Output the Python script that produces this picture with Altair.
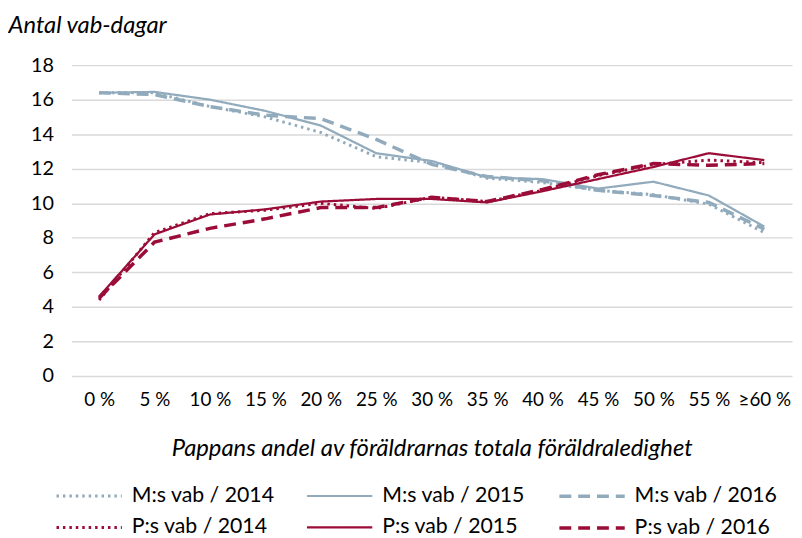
import altair as alt
import pandas as pd

categories = ["0 %", "5 %", "10 %", "15 %", "20 %", "25 %", "30 %", "35 %", "40 %", "45 %", "50 %", "55 %", "≥60 %"]

m_2014 = [16.4, 16.4, 15.6, 15.0, 14.1, 12.7, 12.35, 11.45, 11.2, 10.75, 10.5, 9.95, 8.3]
m_2015 = [16.4, 16.45, 16.0, 15.35, 14.5, 12.9, 12.45, 11.5, 11.4, 10.85, 11.25, 10.45, 8.65]
m_2016 = [16.4, 16.3, 15.6, 15.1, 14.9, 13.7, 12.25, 11.55, 11.3, 10.75, 10.45, 10.05, 8.5]
p_2014 = [4.4, 8.3, 9.4, 9.6, 10.0, 9.7, 10.35, 10.1, 10.75, 11.6, 12.25, 12.5, 12.35]
p_2015 = [4.6, 8.2, 9.35, 9.65, 10.1, 10.25, 10.25, 10.05, 10.7, 11.4, 12.1, 12.9, 12.5]
p_2016 = [4.5, 7.75, 8.55, 9.1, 9.75, 9.75, 10.35, 10.1, 10.8, 11.65, 12.3, 12.2, 12.3]

series_names = ["M:s vab / 2014", "M:s vab / 2015", "M:s vab / 2016",
                "P:s vab / 2014", "P:s vab / 2015", "P:s vab / 2016"]
series_values = [m_2014, m_2015, m_2016, p_2014, p_2015, p_2016]

BLUE = "#91abbd"
RED = "#9b0d38"
colors = [BLUE, BLUE, BLUE, RED, RED, RED]
dashes = [[2.5, 4], [1, 0], [12, 7], [2.5, 4], [1, 0], [12, 7]]
widths = [3, 2.25, 3.5, 3, 2.25, 3.5]

rows = []
for name, vals in zip(series_names, series_values):
    for c, v in zip(categories, vals):
        rows.append({"kategori": c, "värde": v, "serie": name})
df = pd.DataFrame(rows)

FONT = "Lato"

# symbol path spans twice the entry height so the legend rows can stay tight
leg = alt.Legend(
    title=None, orient="none", legendX=-17, legendY=417, direction="horizontal",
    columns=3, columnPadding=27, rowPadding=3, symbolSize=33 * 33,
    symbolType="M-1,0H3",
    labelFontSize=21.5, labelFont=FONT, labelColor="#000000", labelOffset=41,
)

chart = alt.Chart(df).mark_line().encode(
    x=alt.X("kategori:N", sort=categories,
            axis=alt.Axis(title="Pappans andel av föräldrarnas totala föräldraledighet",
                          labelAngle=0, ticks=False, domain=False, labelPadding=15,
                          labelFontSize=19, labelFont=FONT, labelColor="#000000",
                          titleFont=FONT, titleFontSize=24, titleFontStyle="italic",
                          titleFontWeight="normal", titlePadding=27, titleColor="#000000")),
    y=alt.Y("värde:Q", scale=alt.Scale(domain=[0, 18], nice=False),
            axis=alt.Axis(title="Antal vab-dagar", values=list(range(0, 19, 2)),
                          ticks=False, domain=False, labelPadding=18,
                          labelFontSize=20, labelFont=FONT, labelColor="#000000",
                          gridColor="#d9d9d9", gridWidth=1.5,
                          titleAngle=0, titleAlign="left", titleBaseline="middle",
                          titleX=-64, titleY=-40, titleFont=FONT, titleFontSize=24,
                          titleFontStyle="italic", titleFontWeight="normal",
                          titleColor="#000000")),
    color=alt.Color("serie:N", scale=alt.Scale(domain=series_names, range=colors), legend=leg),
    strokeDash=alt.StrokeDash("serie:N", scale=alt.Scale(domain=series_names, range=dashes), legend=leg),
    strokeWidth=alt.StrokeWidth("serie:N", scale=alt.Scale(type="ordinal", domain=series_names, range=widths), legend=leg),
).properties(
    width=728, height=314,
    padding={"left": 64, "top": 55, "right": 2, "bottom": 165},
    autosize=alt.AutoSizeParams(type="none"),
).configure_view(stroke=None)

chart.save("out.html", embed_options={"renderer": "svg", "actions": False})
